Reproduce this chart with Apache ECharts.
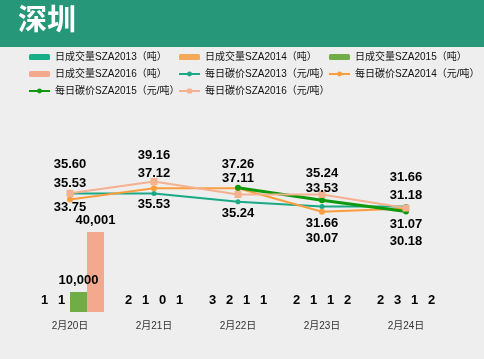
<!DOCTYPE html>
<html><head><meta charset="utf-8">
<script src="https://cdn.jsdelivr.net/npm/echarts@6/dist/echarts.min.js"></script>
<style>html,body{margin:0;padding:0;background:#eeeeee}#c{width:484px;height:359px}</style>
</head><body><div id="c"></div>
<script>
var categories = ['2月20日', '2月21日', '2月22日', '2月23日', '2月24日'];
var vol2013 = [1, 2, 3, 2, 2];
var vol2014 = [1, 1, 2, 1, 3];
var vol2015 = [10000, 0, 1, 1, 1];
var vol2016 = [40001, 1, 1, 2, 2];
var price2013 = [35.53, 35.53, 33.10, 31.66, 31.66];
var price2014 = [33.75, 37.12, 37.11, 30.07, 31.07];
var price2015 = [null, null, 37.26, 33.53, 30.18];
var price2016 = [35.60, 39.16, 35.24, 35.24, 31.18];
var seriesNames = ['日成交量SZA2013（吨）', '日成交量SZA2014（吨）', '日成交量SZA2015（吨）', '日成交量SZA2016（吨）',
  '每日碳价SZA2013（元/吨）', '每日碳价SZA2014（元/吨）', '每日碳价SZA2015（元/吨）', '每日碳价SZA2016（元/吨）'];

// label offsets (style only)
var off2013 = [-10, 11, null, 17, -29];
var off2014 = [8, -15, -10, 27, 16];
var off2015 = [0, 0, -23, -12, 30];
var off2016 = [-29, -26, 19, -21, -13];

var LF = 'Liberation Sans, Arial, Noto Sans CJK SC, sans-serif';
function fmt(v) { return String(v).replace(/\B(?=(\d{3})+(?!\d))/g, ','); }
function lineData(vals, offs) {
  return vals.map(function (v, i) {
    if (v == null) return null;
    var o = offs[i];
    if (o == null) return { value: v, label: { show: false } };
    return { value: v, label: { offset: [0, o] } };
  });
}
var barLabel = { show: true, position: 'top', distance: 5, color: '#000', fontSize: 13, fontWeight: 'bold', fontFamily: LF,
  formatter: function (p) { return fmt(p.value); } };
var lineLabel = { show: true, position: 'inside', color: '#000', fontSize: 13, fontWeight: 'bold', fontFamily: LF,
  formatter: function (p) { return Number(p.value).toFixed(2); } };

function bar(name, data, color) {
  return { name: name, type: 'bar', yAxisIndex: 0, data: data, barWidth: 17, barGap: '0%',
    itemStyle: { color: color }, label: barLabel };
}
function line(name, data, color, symbol, size, width) {
  return { name: name, type: 'line', yAxisIndex: 1, data: data, symbol: symbol, symbolSize: size,
    lineStyle: { color: color, width: width }, itemStyle: { color: color }, label: lineLabel, z: 3 };
}
var legendCommon = { orient: 'vertical', itemWidth: 21, itemHeight: 6, itemGap: 7, itemTextGap: 4,
  textStyle: { fontSize: 10, color: '#111', fontFamily: LF } };

var chart = echarts.init(document.getElementById('c'));
chart.setOption({
  backgroundColor: '#eeeeee',
  animation: false,
  graphic: [{ type: 'rect', left: 0, top: 0, shape: { width: 484, height: 47 }, style: { fill: '#27977a' }, z: -1 }],
  title: { text: '深圳', left: 13, top: -1, textStyle: { color: '#fff', fontSize: 29, fontWeight: 'bold', fontFamily: 'Noto Sans CJK SC' } },
  legend: [
    Object.assign({ left: 23, top: 47, data: [seriesNames[0], seriesNames[3], seriesNames[6]] }, legendCommon),
    Object.assign({ left: 173, top: 47, data: [seriesNames[1], seriesNames[4], seriesNames[7]] }, legendCommon),
    Object.assign({ left: 323, top: 47, data: [seriesNames[2], seriesNames[5]] }, legendCommon)
  ],
  grid: { left: 28, right: 36, top: 112, bottom: 47 },
  xAxis: { type: 'category', data: categories, axisLine: { show: false }, axisTick: { show: false },
    axisLabel: { fontSize: 10, color: '#333', margin: 9, fontFamily: LF } },
  yAxis: [
    { type: 'value', min: 0, max: 100000, show: false, splitLine: { show: false } },
    { type: 'value', min: 0, max: 60, show: false, splitLine: { show: false } }
  ],
  series: [
    bar(seriesNames[0], vol2013, '#17ae88'),
    bar(seriesNames[1], vol2014, '#f5a857'),
    bar(seriesNames[2], vol2015, '#70ad47'),
    bar(seriesNames[3], vol2016, '#f2a98e'),
    line(seriesNames[4], lineData(price2013, off2013), '#1aa886', 'circle', 5, 2),
    line(seriesNames[5], lineData(price2014, off2014), '#fa9d3c', 'circle', 6, 2),
    line(seriesNames[6], lineData(price2015, off2015), '#0e990e', 'circle', 6, 3),
    line(seriesNames[7], lineData(price2016, off2016), '#f5b08e', 'rect', 7, 2)
  ]
});
</script></body></html>
